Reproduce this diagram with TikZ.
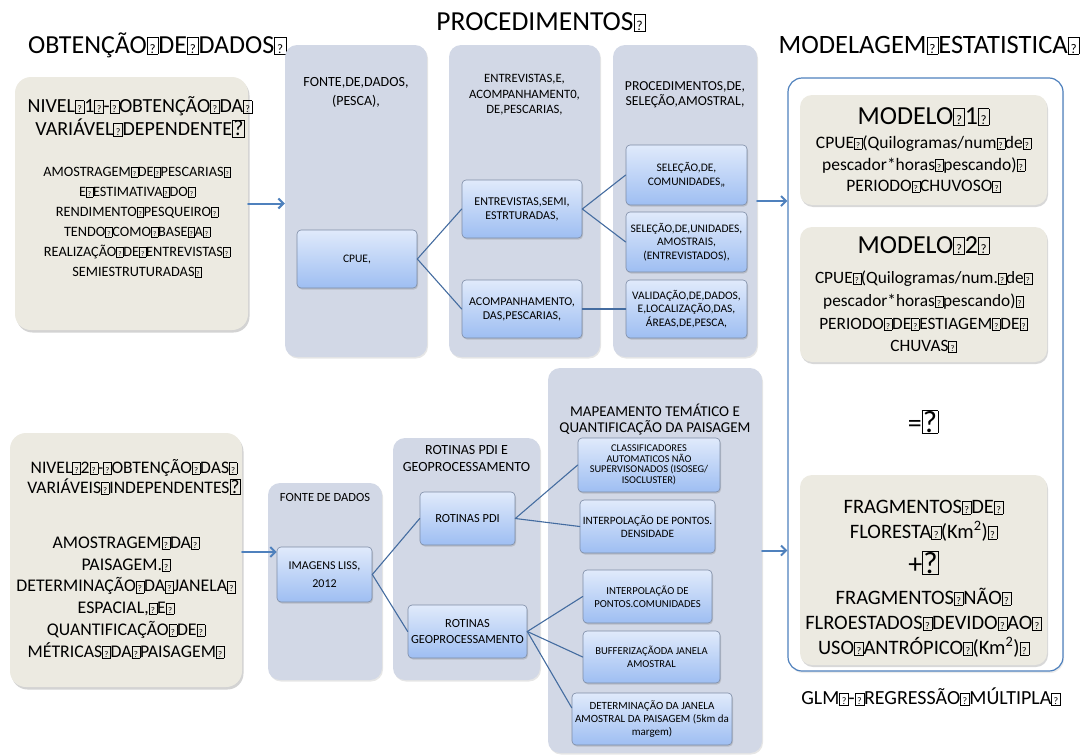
\documentclass[tikz,border=0pt]{standalone}
\usepackage{fontspec}
\setmainfont{Carlito}
\usepackage{graphicx}
\usetikzlibrary{arrows.meta,shadows,positioning}
\definecolor{panelgray}{RGB}{210,216,230}
\definecolor{beige}{RGB}{236,234,225}
\definecolor{boxtop}{RGB}{224,234,251}
\definecolor{boxbot}{RGB}{158,190,242}
\definecolor{boxedge}{RGB}{125,140,165}
\definecolor{linkblue}{RGB}{68,108,160}
\definecolor{arrowblue}{RGB}{79,129,189}
% box shown where the font had no glyph
\newcommand\gbox{{\setlength\fboxsep{0.5pt}\setlength\fboxrule{0.3pt}\fbox{\rule{0pt}{0.58em}\makebox[0.38em]{\scalebox{0.5}{?}}}}}
\newcommand\bigq{{\setlength\fboxsep{0.6pt}\setlength\fboxrule{0.5pt}\fbox{\scalebox{1.1}{?}}}}
\begin{document}
\begin{tikzpicture}[x=1pt,y=-1pt,line cap=round,line join=round,
  panel/.style={fill=panelgray,rounded corners=12pt,drop shadow={opacity=0.2,shadow xshift=1pt,shadow yshift=-1.5pt}},
  beigebox/.style={fill=beige,rounded corners=16pt,drop shadow={opacity=0.35,shadow xshift=1.5pt,shadow yshift=-2.5pt}},
  subbox/.style={draw=boxedge,line width=0.6pt,rounded corners=4pt,top color=boxtop,bottom color=boxbot,align=center,inner sep=1pt,drop shadow={opacity=0.3,shadow xshift=1pt,shadow yshift=-1.5pt}},
  modbox/.style={fill=beige,rounded corners=12pt,minimum width=247pt,align=center,drop shadow={opacity=0.3,shadow xshift=1pt,shadow yshift=-2pt}},
  link/.style={draw=linkblue,line width=1.1pt},
  flow/.style={draw=arrowblue,line width=2pt,-{Straight Barb[length=5pt,width=10pt]}}]
  \useasboundingbox (0,0) rectangle (1089,755);
  % titles
  \node[font=\fontsize{26}{30}\selectfont] (tobt) at (157,45) {OBTENÇÃO\gbox DE\gbox DADOS\gbox};
  \node[font=\fontsize{27.5}{30}\selectfont] (tproc) at (541,22) {PROCEDIMENTOS\gbox};
  \node[font=\fontsize{26.5}{30}\selectfont] (tmod) at (929,45) {MODELAGEM\gbox ESTATISTICA\gbox};
  % nivel 1
  \node[beigebox,minimum width=233pt,minimum height=253pt] (nivel1) at (131.5,203.5) {};
  \node[align=center,font=\fontsize{20}{23}\selectfont] (nivel1h) at (140,117) {NIVEL\gbox 1\gbox-\gbox OBTENÇÃO\gbox DA\gbox\\VARIÁVEL\gbox DEPENDENTE\bigq};
  \node[align=center,font=\fontsize{14.3}{20}\selectfont] (nivel1b) at (137,222) {AMOSTRAGEM\gbox DE\gbox PESCARIAS\gbox\\E\gbox ESTIMATIVA\gbox DO\gbox\\RENDIMENTO\gbox PESQUEIRO\gbox\\TENDO\gbox COMO\gbox BASE\gbox A\gbox\\REALIZAÇÃO\gbox DE\gbox ENTREVISTAS\gbox\\SEMIESTRUTURADAS\gbox};
  % painel fonte de dados (pesca)
  \node[panel,minimum width=142pt,minimum height=312pt] (fonte) at (356,201) {};
  \node[align=center,font=\fontsize{14}{19}\selectfont] (fontet) at (356,92.5) {FONTE,DE,DADOS,\\(PESCA),};
  \node[subbox,minimum width=120pt,minimum height=58pt,font=\fontsize{11.5}{14}\selectfont] (cpue) at (357,259) {CPUE,};
  % painel entrevistas
  \node[panel,minimum width=151pt,minimum height=312pt] (entrev) at (524.5,201) {};
  \node[align=center,font=\fontsize{12.7}{15.5}\selectfont] (entrevt) at (524.5,95) {ENTREVISTAS,E,\\ACOMPANHAMENT0,\\DE,PESCARIAS,};
  \node[subbox,minimum width=120pt,minimum height=58pt,font=\fontsize{12}{14}\selectfont] (semi) at (522,209) {ENTREVISTAS,SEMI,\\ESTRTURADAS,};
  \node[subbox,minimum width=120pt,minimum height=58pt,font=\fontsize{12}{14}\selectfont] (acomp) at (522,309) {ACOMPANHAMENTO,\\DAS,PESCARIAS,};
  % painel procedimentos de selecao
  \node[panel,minimum width=144pt,minimum height=312pt] (proc) at (685,201) {};
  \node[align=center,font=\fontsize{13.7}{15.5}\selectfont] (proct) at (685,94.5) {PROCEDIMENTOS,DE,\\SELEÇÃO,AMOSTRAL,};
  \node[subbox,minimum width=121pt,minimum height=60pt,font=\fontsize{11.5}{13.5}\selectfont] (selcom) at (686.5,175) {SELEÇÃO,DE,\\COMUNIDADES,,};
  \node[subbox,minimum width=121pt,minimum height=60pt,font=\fontsize{11.5}{13.5}\selectfont] (seluni) at (686.5,242) {SELEÇÃO,DE,UNIDADES,\\AMOSTRAIS,\\(ENTREVISTADOS),};
  \node[subbox,minimum width=121pt,minimum height=58pt,font=\fontsize{11.5}{13.5}\selectfont] (valid) at (686.5,309) {VALIDAÇÃO,DE,DADOS,\\E,LOCALIZAÇÃO,DAS,\\ÁREAS,DE,PESCA,};
  \draw[link] (cpue.east) -- (semi.west);
  \draw[link] (cpue.east) -- (acomp.west);
  \draw[link] (semi.east) -- (selcom.west);
  \draw[link] (semi.east) -- (seluni.west);
  \draw[link] (acomp.east) -- (valid.west);
  % nivel 2
  \node[beigebox,minimum width=232pt,minimum height=254pt] (nivel2) at (126,560) {};
  \node[align=center,font=\fontsize{17.6}{20}\selectfont] (nivel2h) at (134,477) {NIVEL\gbox 2\gbox-\gbox OBTENÇÃO\gbox DAS\gbox\\VARIÁVEIS\gbox INDEPENDENTES\bigq};
  \node[align=center,font=\fontsize{17.8}{21.8}\selectfont] (nivel2b) at (126,597.5) {AMOSTRAGEM\gbox DA\gbox\\PAISAGEM.\gbox\\DETERMINAÇÃO\gbox DA\gbox JANELA\gbox\\ESPACIAL,\gbox E\gbox\\QUANTIFICAÇÃO\gbox DE\gbox\\MÉTRICAS\gbox DA\gbox PAISAGEM\gbox};
  % fonte de dados (imagens)
  \node[panel,minimum width=114pt,minimum height=197pt] (fonte2) at (325,581.5) {};
  \node[font=\fontsize{12.5}{14}\selectfont] (fonte2t) at (325,497) {FONTE DE DADOS};
  \node[subbox,minimum width=95pt,minimum height=55pt,font=\fontsize{12}{18}\selectfont] (liss) at (324.5,574.5) {IMAGENS LISS,\\2012};
  % rotinas
  \node[panel,minimum width=147pt,minimum height=242pt] (rot) at (466.5,559) {};
  \node[align=center,font=\fontsize{14}{17}\selectfont] (rott) at (466.5,458.5) {ROTINAS PDI E\\GEOPROCESSAMENTO};
  \node[subbox,minimum width=95pt,minimum height=53pt,font=\fontsize{12.4}{16}\selectfont] (pdi) at (467.5,518.5) {ROTINAS PDI};
  \node[subbox,minimum width=119pt,minimum height=53pt,font=\fontsize{12.4}{16}\selectfont] (geo) at (467.5,631.5) {ROTINAS\\GEOPROCESSAMENTO};
  \draw[link] (liss.east) -- (pdi.west);
  \draw[link] (liss.east) -- (geo.west);
  % mapeamento
  \node[panel,minimum width=214pt,minimum height=385pt] (mapa) at (655,560.5) {};
  \node[align=center,font=\fontsize{15}{16}\selectfont] (mapat) at (655,419.5) {MAPEAMENTO TEMÁTICO E\\QUANTIFICAÇÃO DA PAISAGEM};
  \node[subbox,minimum width=142pt,minimum height=54pt,font=\fontsize{10.4}{10.5}\selectfont] (cls) at (649,465) {CLASSIFICADORES\\AUTOMATICOS NÃO\\SUPERVISONADOS (ISOSEG/\\ISOCLUSTER)};
  \node[subbox,minimum width=135pt,minimum height=53pt,font=\fontsize{11.2}{13}\selectfont] (dens) at (647.5,526.5) {INTERPOLAÇÃO DE PONTOS.\\DENSIDADE};
  \node[subbox,minimum width=129pt,minimum height=53pt,font=\fontsize{10.7}{13}\selectfont] (com) at (647.5,596.5) {INTERPOLAÇÃO DE\\PONTOS.COMUNIDADES};
  \node[subbox,minimum width=137pt,minimum height=52pt,font=\fontsize{10.6}{13}\selectfont] (buf) at (651.5,657) {BUFFERIZAÇÃODA JANELA\\AMOSTRAL};
  \node[subbox,minimum width=160pt,minimum height=52pt,font=\fontsize{11}{13}\selectfont] (det) at (652,719) {DETERMINAÇÃO DA JANELA\\AMOSTRAL DA PAISAGEM (5km da\\margem)};
  \draw[link] (pdi.east) -- (cls.west);
  \draw[link] (pdi.east) -- (dens.west);
  \draw[link] (geo.east) -- (com.west);
  \draw[link] (geo.east) -- (buf.west);
  \draw[link] (geo.east) -- (det.172);
  % modelagem
  \node[draw=arrowblue,line width=1.2pt,rounded corners=14pt,minimum width=275pt,minimum height=593pt,drop shadow={opacity=0.15,shadow xshift=1pt,shadow yshift=-2pt},fill=white] (frame) at (925.5,374.5) {};
  \node[modbox,minimum height=110pt,font=\fontsize{17.5}{21.5}\selectfont] (mod1) at (923.5,150) {{\fontsize{26}{30}\selectfont MODELO\gbox 1\gbox}\\[3pt]CPUE\gbox(Quilogramas/num\gbox de\gbox\\pescador*horas\gbox pescando)\gbox\\PERIODO\gbox CHUVOSO\gbox};
  \node[modbox,minimum height=135pt,font=\fontsize{17.3}{22.7}\selectfont] (mod2) at (923.5,294.5) {{\fontsize{26}{30}\selectfont MODELO\gbox 2\gbox}\\[8pt]CPUE\gbox(Quilogramas/num.\gbox de\gbox\\pescador*horas\gbox pescando)\gbox\\PERIODO\gbox DE\gbox ESTIAGEM\gbox DE\gbox\\CHUVAS\gbox};
  \node[font=\fontsize{28}{30}\selectfont] (igual) at (923,422) {=\bigq};
  \node[modbox,minimum height=190pt] (frag) at (923.5,570) {};
  \node[align=center,font=\fontsize{20.5}{25}\selectfont] (fragt) at (923.5,578.5) {FRAGMENTOS\gbox DE\gbox\\FLORESTA\gbox(Km\textsuperscript{2})\gbox\\[10pt]{\fontsize{28}{30}\selectfont +\bigq}\\[6pt]FRAGMENTOS\gbox NÃO\gbox\\FLROESTADOS\gbox DEVIDO\gbox AO\gbox\\USO\gbox ANTRÓPICO\gbox(Km\textsuperscript{2})\gbox};
  \node[font=\fontsize{20}{22}\selectfont] (glm) at (931,697) {GLM\gbox-\gbox REGRESSÃO\gbox MÚLTIPLA\gbox};
  % setas
  \draw[flow] (nivel1.east) -- (nivel1.east -| fonte.west);
  \draw[flow] (proc.east) -- (proc.east -| frame.west);
  \draw[flow] ([yshift=8pt]nivel2.east) -- ([yshift=8pt]nivel2.east -| liss.west);
  \draw[flow] ([yshift=10pt]mapa.east) -- ([yshift=10pt]mapa.east -| frame.west);
\end{tikzpicture}
\end{document}
